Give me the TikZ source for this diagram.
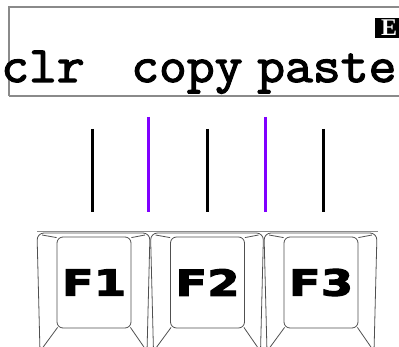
\documentclass[tikz,border=0pt]{standalone}
\usepackage{fontspec}
\usepackage{tikz}
\usetikzlibrary{positioning, calc}
\newfontfamily\markfont{Liberation Serif}
\newfontfamily\lcdfont{Latin Modern Mono}[FakeBold=2.5, FakeStretch=1.06]
\newfontfamily\keyfont{DejaVu Sans}[FakeStretch=1.3, BoldFeatures={FakeBold=3}]
\definecolor{softkey}{HTML}{8000FF}
\definecolor{bezel}{HTML}{8A8A8A}
\definecolor{keyedge}{HTML}{505050}

\begin{document}
\begin{tikzpicture}[x={(1pt,0)}, y={(0,-1pt)},
    lcdtext/.style={anchor=base west, inner sep=0pt, font=\lcdfont\fontsize{51}{51}\selectfont},
    keyline/.style={draw=keyedge, line width=0.8pt},
    keyface/.style={keyline, rectangle, rounded corners=6pt, minimum width=74pt, minimum height=91pt, inner sep=0pt, font=\keyfont\bfseries\fontsize{36}{36}\selectfont},
    plainbar/.style={line width=3pt, black},
    menubar/.style={line width=3pt, softkey}]
    \useasboundingbox (0,0) rectangle (399,347);
    \clip (0,0) rectangle (399,347);

    % display
    \draw [bezel, line width=1.3pt] (9,96) -- (9,7) -- (430,7);
    \draw [bezel, line width=1.3pt] (9,96) -- (430,96);
    \node [fill=black, text=white, inner sep=1pt, minimum width=28pt, minimum height=20pt, font=\markfont\bfseries\fontsize{24}{24}\selectfont] (mode) at (389,28) {E};
    \node [lcdtext] (clr) at (1,82) {clr};
    \node [lcdtext] (copy) at (131,82) {copy};
    \node [lcdtext] (paste) at (257,82) {paste};

    % bars
    \foreach \bx in {92,207,323}
        \draw [plainbar] (\bx,129) -- (\bx,212);
    \foreach \bx in {148,265}
        \draw [menubar] (\bx,117) -- (\bx,212);

    % keys
    \draw [bezel, line width=0.8pt] (37,231) -- (378,231);
    \foreach \x/\lbl in {37/F1,150.5/F2,264/F3} {
        \draw [keyline, rounded corners=7pt] (\x+3,352) -- (\x,233) -- (\x+113,233) -- (\x+110,352);
        \node [keyface] (\lbl) at (\x+57,282.5) {\lbl};
        \draw [keyline] (\lbl.north west) ++(0,1) -- (\x+5,235);
        \draw [keyline] (\lbl.north east) ++(0,1) -- (\x+108,235);
        \draw [keyline] (\lbl.south west) ++(1,-1) -- (\x+4,350);
        \draw [keyline] (\lbl.south east) ++(-1,-1) -- (\x+109,350);
    }
\end{tikzpicture}
\end{document}
